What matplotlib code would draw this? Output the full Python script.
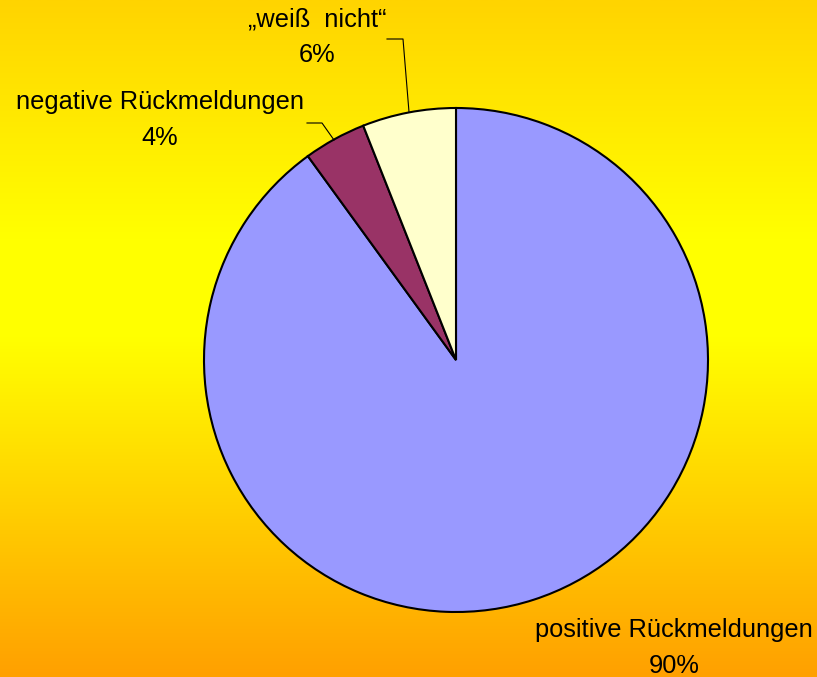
import numpy as np
import matplotlib.pyplot as plt
from matplotlib.colors import LinearSegmentedColormap

plt.rcParams['font.family'] = ['Liberation Sans', 'DejaVu Sans']

labels = ['positive Rückmeldungen', 'negative Rückmeldungen', '„weiß nicht“']
values = [90, 4, 6]
colors = ['#9999FF', '#993366', '#FFFFCC']

W, H = 817, 677
fig = plt.figure(figsize=(W / 100, H / 100), dpi=100)

# background gradient: gold at top, yellow in the middle, orange at the bottom
bg = fig.add_axes([0, 0, 1, 1])
cmap = LinearSegmentedColormap.from_list(
    'bg', [(0.0, '#FFA000'), (0.5, '#FFFF00'), (0.65, '#FFFF00'), (1.0, '#FFD400')])
grad = np.linspace(0, 1, 256).reshape(-1, 1)
bg.imshow(grad, aspect='auto', cmap=cmap, origin='lower', extent=[0, 1, 0, 1])
bg.axis('off')

ax = fig.add_axes([0, 0, 1, 1])
ax.patch.set_alpha(0)
ax.pie(values, colors=colors, startangle=90, counterclock=False,
       center=(456, H - 360), radius=252, frame=True,
       wedgeprops=dict(edgecolor='black', linewidth=1.5))
ax.set_xlim(0, W)
ax.set_ylim(0, H)
ax.set_aspect('equal')
ax.axis('off')

fs = 18.3
ls = 1.6
ax.text(674, H - 648, f'{labels[0]}\n{values[0]}%', ha='center', va='center',
        fontsize=fs, linespacing=ls)
ax.text(160, H - 120, f'{labels[1]}\n{values[1]}%', ha='center', va='center',
        fontsize=fs, linespacing=ls)
ax.text(317, H - 37, f'{labels[2].replace(" ", "  ")}\n{values[2]}%', ha='center', va='center',
        fontsize=fs, linespacing=ls)

# leader lines
ax.plot([387, 403, 409], [H - 39, H - 39, H - 112], color='black', lw=0.8)
ax.plot([307, 322, 334], [H - 123, H - 123, H - 140], color='black', lw=0.8)

fig.savefig('out.png', dpi=100)
